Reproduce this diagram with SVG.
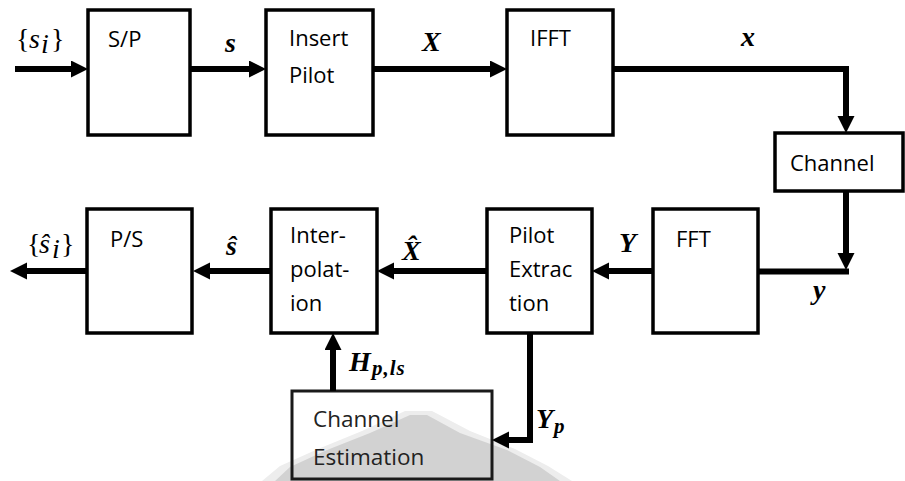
<svg xmlns="http://www.w3.org/2000/svg" width="905" height="481" viewBox="0 0 905 481">
  <style>
    .box { fill: #ffffff; stroke: #000000; stroke-width: 3.5; }
    .box-est { fill: none; stroke: #1a1a1a; stroke-width: 3; }
    .lbl { font-family: "Open Sans", "Noto Sans", sans-serif; font-size: 22px; fill: #000000; }
    .lbl-est { font-family: "Open Sans", "Noto Sans", sans-serif; font-size: 22.5px; fill: #222222; }
    .math { font-family: "Liberation Serif", "DejaVu Serif", serif; font-size: 28px; font-weight: bold; font-style: italic; fill: #000000; }
    .sub { font-family: "Liberation Serif", "DejaVu Serif", serif; font-size: 21px; font-weight: bold; font-style: italic; fill: #000000; }
    .set { font-family: "Liberation Serif", "DejaVu Serif", serif; font-size: 28px; fill: #000000; }
    .set-i { font-style: italic; }
    .wire { fill: none; stroke: #000000; stroke-width: 6; marker-end: url(#head); }
    .wire-plain { fill: none; stroke: #000000; stroke-width: 6; }
  </style>
  <defs>
    <marker id="head" markerUnits="userSpaceOnUse" markerWidth="18" markerHeight="18" refX="6" refY="8.5" orient="auto">
      <path d="M0,0 L17,8.5 L0,17 Z" fill="#000000"/>
    </marker>
  </defs>

  <rect width="905" height="481" fill="#ffffff"/>

  <!-- faded backdrop shape behind the estimation block -->
  <g id="backdrop">
    <polygon points="405,411 432,411 470,431 515,449 548,466 572,481 262,481 280,466 318,449 362,431" fill="#ededed"/>
    <polygon points="410,415 427,415 460,433 507,450 540,467 560,481 275,481 290,467 327,450 370,433" fill="#d2d2d2"/>
  </g>

  <!-- transmitter chain -->
  <g id="sp">
    <rect class="box" x="88" y="10" width="102" height="125"/>
    <text class="lbl" x="108" y="47">S/P</text>
  </g>
  <g id="insert-pilot">
    <rect class="box" x="266" y="10" width="107" height="125"/>
    <text class="lbl" x="289" y="46">Insert</text>
    <text class="lbl" x="289" y="83">Pilot</text>
  </g>
  <g id="ifft">
    <rect class="box" x="507" y="10" width="106" height="125"/>
    <text class="lbl" x="530" y="46">IFFT</text>
  </g>
  <g id="channel">
    <rect class="box" x="775" y="133" width="128" height="58"/>
    <text class="lbl" x="790" y="171">Channel</text>
  </g>

  <!-- receiver chain -->
  <g id="fft">
    <rect class="box" x="653" y="209" width="105" height="124"/>
    <text class="lbl" x="676" y="247">FFT</text>
  </g>
  <g id="pilot-extraction">
    <rect class="box" x="487" y="209" width="105" height="124"/>
    <text class="lbl" x="509" y="243">Pilot</text>
    <text class="lbl" x="509" y="277">Extrac</text>
    <text class="lbl" x="509" y="311">tion</text>
  </g>
  <g id="interpolation">
    <rect class="box" x="271" y="209" width="106" height="124"/>
    <text class="lbl" x="290" y="243">Inter-</text>
    <text class="lbl" x="290" y="277">polat-</text>
    <text class="lbl" x="290" y="311">ion</text>
  </g>
  <g id="ps">
    <rect class="box" x="87" y="209" width="105" height="124"/>
    <text class="lbl" x="110" y="247">P/S</text>
  </g>
  <g id="channel-estimation">
    <rect class="box-est" x="292" y="391" width="200" height="88"/>
    <text class="lbl-est" x="313" y="427">Channel</text>
    <text class="lbl-est" x="313" y="465">Estimation</text>
  </g>

  <!-- connectors -->
  <g id="connectors">
    <path class="wire" d="M15,69 H77"/>
    <path class="wire" d="M190,69 H255"/>
    <path class="wire" d="M373,69 H496"/>
    <path class="wire" d="M613,69 H846 V122"/>
    <path class="wire" d="M846,191 V259"/>
    <path class="wire-plain" d="M758,271.5 H849"/>
    <path class="wire" d="M653,271 H603"/>
    <path class="wire" d="M487,271 H388"/>
    <path class="wire" d="M271,271 H204"/>
    <path class="wire" d="M87,271 H21"/>
    <path class="wire" d="M333,391 V344"/>
    <path class="wire" d="M530,333 V440 H503"/>
  </g>

  <!-- signal labels -->
  <g id="labels">
    <text class="set" x="16" y="48">{</text>
    <text class="set set-i" x="29" y="48">s</text>
    <text class="set set-i" x="41" y="53" font-size="20">i</text>
    <text class="set" x="51" y="48">}</text>

    <text class="math" x="225" y="52">s</text>
    <text class="math" x="422" y="51">X</text>
    <text class="math" x="741" y="46">x</text>

    <text class="set" x="27" y="253">{</text>
    <text class="set set-i" x="39" y="253">ŝ</text>
    <text class="set set-i" x="52" y="258" font-size="20">i</text>
    <text class="set" x="61" y="253">}</text>

    <text class="math" x="226" y="255">ŝ</text>
    <text class="math" x="402" y="260">X̂</text>
    <text class="math" x="619" y="252">Y</text>
    <text class="math" x="813" y="299">y</text>

    <text class="math" x="349" y="371">H</text>
    <text class="sub" x="372" y="375" letter-spacing="1">p,ls</text>
    <text class="math" x="536" y="428">Y</text>
    <text class="sub" x="554" y="433">p</text>
  </g>
</svg>
